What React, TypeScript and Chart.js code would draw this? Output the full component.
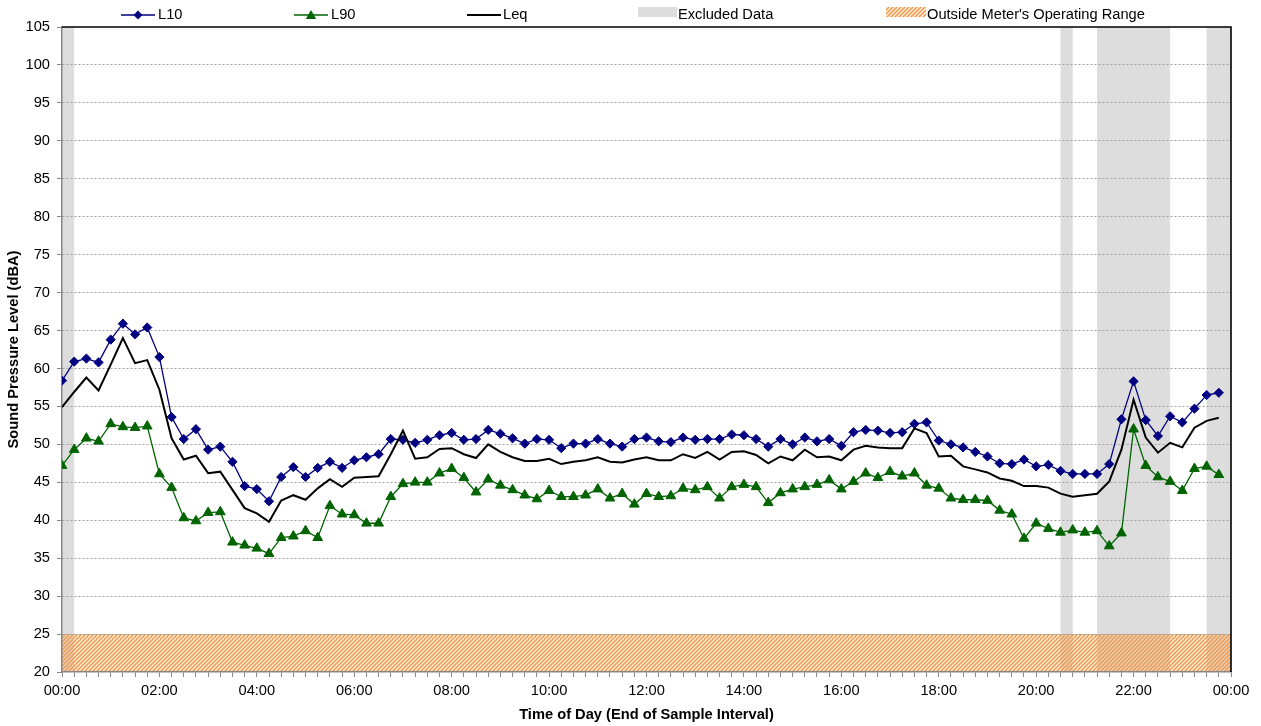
import React, { useEffect, useRef } from "react";
import { Chart, registerables } from "chart.js";

Chart.register(...registerables);

// ---------- data ----------
const timeLabels = [
  "00:00","00:15","00:30","00:45","01:00","01:15","01:30","01:45",
  "02:00","02:15","02:30","02:45","03:00","03:15","03:30","03:45",
  "04:00","04:15","04:30","04:45","05:00","05:15","05:30","05:45",
  "06:00","06:15","06:30","06:45","07:00","07:15","07:30","07:45",
  "08:00","08:15","08:30","08:45","09:00","09:15","09:30","09:45",
  "10:00","10:15","10:30","10:45","11:00","11:15","11:30","11:45",
  "12:00","12:15","12:30","12:45","13:00","13:15","13:30","13:45",
  "14:00","14:15","14:30","14:45","15:00","15:15","15:30","15:45",
  "16:00","16:15","16:30","16:45","17:00","17:15","17:30","17:45",
  "18:00","18:15","18:30","18:45","19:00","19:15","19:30","19:45",
  "20:00","20:15","20:30","20:45","21:00","21:15","21:30","21:45",
  "22:00","22:15","22:30","22:45","23:00","23:15","23:30","23:45",
];

const l10 = [
  58.4, 60.9, 61.3, 60.8, 63.8, 65.9, 64.5, 65.4,
  61.5, 53.6, 50.7, 52.0, 49.3, 49.7, 47.7, 44.5,
  44.1, 42.5, 45.7, 47.0, 45.7, 46.9, 47.7, 46.9,
  47.9, 48.3, 48.7, 50.7, 50.6, 50.2, 50.6, 51.2,
  51.5, 50.6, 50.7, 51.9, 51.4, 50.8, 50.1, 50.7,
  50.6, 49.5, 50.1, 50.1, 50.7, 50.1, 49.7, 50.7,
  50.9, 50.4, 50.3, 50.9, 50.6, 50.7, 50.7, 51.3,
  51.2, 50.7, 49.7, 50.7, 50.0, 50.9, 50.4, 50.7,
  49.8, 51.6, 51.9, 51.8, 51.5, 51.6, 52.7, 52.9,
  50.5, 50.0, 49.6, 49.0, 48.4, 47.5, 47.4, 48.0,
  47.1, 47.3, 46.5, 46.1, 46.1, 46.1, 47.4, 53.3,
  58.3, 53.2, 51.1, 53.7, 52.9, 54.7, 56.5, 56.8,
];

const l90 = [
  47.2, 49.3, 50.8, 50.4, 52.7, 52.3, 52.2, 52.4,
  46.1, 44.3, 40.3, 39.9, 41.0, 41.1, 37.1, 36.7,
  36.3, 35.6, 37.7, 37.9, 38.6, 37.7, 41.9, 40.8,
  40.7, 39.6, 39.6, 43.1, 44.8, 45.0, 45.0, 46.2,
  46.8, 45.6, 43.7, 45.4, 44.6, 44.0, 43.3, 42.8,
  43.9, 43.1, 43.1, 43.3, 44.1, 42.9, 43.5, 42.1,
  43.5, 43.1, 43.2, 44.2, 44.0, 44.4, 42.9, 44.4,
  44.7, 44.4, 42.3, 43.6, 44.1, 44.4, 44.7, 45.3,
  44.1, 45.1, 46.2, 45.6, 46.4, 45.8, 46.2, 44.6,
  44.2, 42.9, 42.7, 42.7, 42.6, 41.3, 40.8, 37.6,
  39.6, 38.9, 38.4, 38.7, 38.4, 38.6, 36.6, 38.3,
  52.0, 47.2, 45.7, 45.1, 43.9, 46.8, 47.1, 46.0,
];

const leq = [
  54.9, 56.9, 58.8, 57.1, 60.5, 64.0, 60.7, 61.1,
  57.2, 50.8, 48.0, 48.5, 46.2, 46.4, 44.0, 41.6,
  40.9, 39.8, 42.6, 43.3, 42.7, 44.2, 45.4, 44.4,
  45.6, 45.7, 45.8, 48.7, 51.8, 48.1, 48.3, 49.4,
  49.5, 48.7, 48.2, 50.0, 49.0, 48.3, 47.8, 47.8,
  48.1, 47.4, 47.7, 47.9, 48.3, 47.7, 47.6, 48.0,
  48.3, 47.9, 47.9, 48.7, 48.2, 49.0, 48.0, 49.0,
  49.1, 48.6, 47.5, 48.4, 47.9, 49.3, 48.3, 48.4,
  47.9, 49.3, 49.8, 49.6, 49.5, 49.5, 52.1, 51.5,
  48.4, 48.5, 47.1, 46.7, 46.3, 45.5, 45.2, 44.5,
  44.5, 44.3, 43.5, 43.1, 43.3, 43.5, 45.1, 49.3,
  55.9, 50.9, 48.9, 50.2, 49.6, 52.2, 53.1, 53.5,
];

const excludedStart = ["00:00", "20:30", "21:15", "23:30"];
const excludedEnd = ["00:15", "20:45", "22:45", "24:00"];
const outsideRangeLow = 20;
const outsideRangeHigh = 25;

const yMin = 20;
const yMax = 105;
const yStep = 5;
const xStartTime = "00:00";
const xEndTime = "24:00";
const xMinorStep = 15; // minutes
const xLabelStep = 120; // minutes

const seriesNames = ["L10", "L90", "Leq"];
const legendExcluded = "Excluded Data";
const legendOutside = "Outside Meter's Operating Range";
const yTitle = "Sound Pressure Level (dBA)";
const xTitle = "Time of Day (End of Sample Interval)";

// ---------- helpers ----------
const FONT = '"Liberation Sans", Arial, sans-serif';
const FS = 14.67;
const C_L10 = "#000080";
const C_L90 = "#006400";
const C_LEQ = "#000000";
const C_EXCL = "#DDDDDD";
const C_HATCH = "#F79A4A";
const C_AXIS = "#868686";

function toMin(t: string): number {
  const [h, m] = t.split(":").map(Number);
  return h * 60 + m;
}

function fmtMin(v: number): string {
  const h = Math.floor(v / 60) % 24;
  const m = v % 60;
  return String(h).padStart(2, "0") + ":" + String(m).padStart(2, "0");
}

function makeHatch(ctx: CanvasRenderingContext2D): CanvasPattern | string {
  const c = document.createElement("canvas");
  c.width = 4;
  c.height = 4;
  const g = c.getContext("2d");
  if (!g) return C_HATCH;
  g.strokeStyle = C_HATCH;
  g.lineWidth = 1.6;
  g.beginPath();
  g.moveTo(0, 4);
  g.lineTo(4, 0);
  g.moveTo(-1, 1);
  g.lineTo(1, -1);
  g.moveTo(3, 5);
  g.lineTo(5, 3);
  g.stroke();
  return ctx.createPattern(c, "repeat") || C_HATCH;
}

function drawDiamond(ctx: CanvasRenderingContext2D, x: number, y: number, r: number, color: string) {
  ctx.beginPath();
  ctx.moveTo(x - r, y);
  ctx.lineTo(x, y - r);
  ctx.lineTo(x + r, y);
  ctx.lineTo(x, y + r);
  ctx.closePath();
  ctx.fillStyle = color;
  ctx.fill();
}

function drawTriangle(ctx: CanvasRenderingContext2D, x: number, y: number, r: number, color: string) {
  ctx.beginPath();
  ctx.moveTo(x, y - r);
  ctx.lineTo(x + r * 0.866, y + r * 0.5);
  ctx.lineTo(x - r * 0.866, y + r * 0.5);
  ctx.closePath();
  ctx.fillStyle = color;
  ctx.fill();
}

const bandsPlugin = {
  id: "bandsAndLegend",
  beforeDraw(chart: any) {
    const { ctx, chartArea: a, scales } = chart;
    const x = scales.x;
    const y = scales.y;
    ctx.save();
    ctx.fillStyle = "#ffffff";
    ctx.fillRect(0, 0, chart.width, chart.height);
    ctx.fillStyle = C_EXCL;
    excludedStart.forEach((s, i) => {
      const x0 = x.getPixelForValue(toMin(s));
      const x1 = x.getPixelForValue(toMin(excludedEnd[i]));
      ctx.fillRect(x0, a.top, x1 - x0, a.bottom - a.top);
    });
    const yTop = y.getPixelForValue(outsideRangeHigh);
    const yBot = y.getPixelForValue(outsideRangeLow);
    ctx.fillStyle = makeHatch(ctx);
    ctx.fillRect(a.left, yTop, a.right - a.left, yBot - yTop);
    ctx.restore();
  },
  afterDraw(chart: any) {
    const { ctx, chartArea: a } = chart;
    ctx.save();
    // frame: top and right in black
    ctx.strokeStyle = "#000000";
    ctx.lineWidth = 1.6;
    ctx.beginPath();
    ctx.moveTo(a.left, a.top);
    ctx.lineTo(a.right, a.top);
    ctx.lineTo(a.right, a.bottom);
    ctx.stroke();

    // legend
    const ly = 15;
    ctx.font = `${FS}px ${FONT}`;
    ctx.textBaseline = "middle";
    ctx.textAlign = "left";
    ctx.fillStyle = "#000";

    // L10
    ctx.strokeStyle = C_L10;
    ctx.lineWidth = 1.5;
    ctx.beginPath();
    ctx.moveTo(121, ly);
    ctx.lineTo(155, ly);
    ctx.stroke();
    drawDiamond(ctx, 138, ly, 4.5, C_L10);
    ctx.fillStyle = "#000";
    ctx.fillText(seriesNames[0], 158, ly);

    // L90
    ctx.strokeStyle = C_L90;
    ctx.beginPath();
    ctx.moveTo(294, ly);
    ctx.lineTo(328, ly);
    ctx.stroke();
    drawTriangle(ctx, 311, ly + 1, 6, C_L90);
    ctx.fillStyle = "#000";
    ctx.fillText(seriesNames[1], 331, ly);

    // Leq
    ctx.strokeStyle = C_LEQ;
    ctx.lineWidth = 2;
    ctx.beginPath();
    ctx.moveTo(467, ly);
    ctx.lineTo(501, ly);
    ctx.stroke();
    ctx.fillStyle = "#000";
    ctx.fillText(seriesNames[2], 503, ly);

    // Excluded
    ctx.fillStyle = C_EXCL;
    ctx.fillRect(638, 7, 39, 10);
    ctx.fillStyle = "#000";
    ctx.fillText(legendExcluded, 678, ly);

    // Outside range
    ctx.fillStyle = makeHatch(ctx);
    ctx.fillRect(886, 7, 40, 10);
    ctx.fillStyle = "#000";
    ctx.fillText(legendOutside, 927, ly);

    ctx.restore();
  },
};

export default function App() {
  const ref = useRef<HTMLCanvasElement | null>(null);

  useEffect(() => {
    document.body.style.margin = "0";
    const canvas = ref.current;
    if (!canvas) return;
    const xs = timeLabels.map(toMin);
    const mk = (vals: number[]) => vals.map((v, i) => ({ x: xs[i], y: v }));

    const chart = new Chart(canvas, {
      type: "line",
      data: {
        datasets: [
          {
            label: seriesNames[0],
            data: mk(l10),
            borderColor: C_L10,
            backgroundColor: C_L10,
            borderWidth: 1.3,
            pointStyle: "rectRot",
            pointRadius: 4.6,
            pointBorderWidth: 1,
            pointBorderColor: C_L10,
            pointBackgroundColor: C_L10,
            tension: 0,
            order: 2,
          },
          {
            label: seriesNames[1],
            data: mk(l90),
            borderColor: C_L90,
            backgroundColor: C_L90,
            borderWidth: 1.3,
            pointStyle: "triangle",
            pointRadius: 5.6,
            pointBorderWidth: 1,
            pointBorderColor: C_L90,
            pointBackgroundColor: C_L90,
            tension: 0,
            order: 3,
          },
          {
            label: seriesNames[2],
            data: mk(leq),
            borderColor: C_LEQ,
            backgroundColor: C_LEQ,
            borderWidth: 2,
            pointRadius: 0,
            tension: 0,
            order: 1,
          },
        ],
      },
      options: {
        responsive: false,
        animation: false,
        devicePixelRatio: 1,
        layout: { padding: { top: 27, right: 30, left: 0, bottom: 0 } },
        plugins: {
          legend: { display: false },
          tooltip: { enabled: false },
        },
        scales: {
          x: {
            type: "linear",
            min: toMin(xStartTime),
            max: toMin(xEndTime),
            afterFit: (s: any) => {
              s.height = 54;
            },
            ticks: {
              stepSize: xMinorStep,
              autoSkip: false,
              maxRotation: 0,
              minRotation: 0,
              padding: 5,
              color: "#000",
              font: { family: FONT, size: FS },
              callback: (v: any) => (Number(v) % xLabelStep === 0 ? fmtMin(Number(v)) : ""),
            },
            grid: {
              display: true,
              drawOnChartArea: false,
              drawTicks: true,
              tickLength: 5,
              tickColor: C_AXIS,
              tickWidth: 1,
            },
            border: { display: true, color: C_AXIS, width: 1.5 },
            title: {
              display: true,
              text: xTitle,
              color: "#000",
              font: { family: FONT, size: FS, weight: "bold" },
              padding: { top: 2, bottom: 2 },
            },
          },
          y: {
            type: "linear",
            min: yMin,
            max: yMax,
            afterFit: (s: any) => {
              s.width = 62;
            },
            ticks: {
              stepSize: yStep,
              padding: 7,
              color: "#000",
              font: { family: FONT, size: FS },
            },
            grid: {
              display: true,
              drawOnChartArea: true,
              drawTicks: true,
              tickLength: 5,
              tickColor: C_AXIS,
              tickWidth: 1,
              tickBorderDash: [],
              lineWidth: 1,
              color: (c: any) =>
                c.tick && (c.tick.value === yMin || c.tick.value === yMax) ? "rgba(0,0,0,0)" : "#A0A0A0",
            },
            border: { display: true, color: C_AXIS, width: 1.5, dash: [2, 2] },
            title: {
              display: true,
              text: yTitle,
              color: "#000",
              font: { family: FONT, size: FS, weight: "bold" },
              padding: { top: 5, bottom: 4 },
            },
          },
        },
      },
      plugins: [bandsPlugin],
    });

    return () => chart.destroy();
  }, []);

  return (
    <div style={{ position: "absolute", left: 0, top: 0, width: 1261, height: 726, background: "#fff" }}>
      <canvas ref={ref} width={1261} height={726} style={{ display: "block" }} />
    </div>
  );
}
